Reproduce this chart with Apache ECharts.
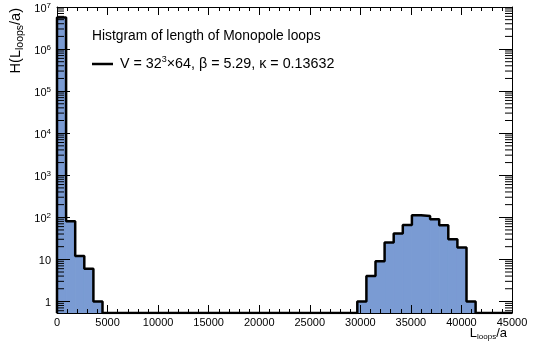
<!DOCTYPE html>
<html>
<head>
<meta charset="utf-8">
<script src="https://cdn.jsdelivr.net/npm/echarts@6/dist/echarts.min.js"></script>
<style>
  html, body { margin: 0; padding: 0; background: #fff; }
  #chart { width: 534px; height: 345px; }
</style>
</head>
<body>
<div id="chart"></div>
<script>
// Loop-length histogram: lower edge of each filled bin and its entry count
const binStarts = [0, 900, 1800, 2700, 3600,
  29700, 30600, 31500, 32400, 33300, 34200, 35100, 36000, 36900, 37800, 38700, 39600, 40500];
const binCounts = [5600000, 81, 12, 6, 1,
  1, 4, 9, 25, 41, 66, 112, 108, 90, 65, 30, 19, 1];
const BIN_WIDTH = 900;

const X_MIN = 0, X_MAX = 45000, X_STEP = 5000;
const Y_MIN = 0.53, Y_MAX = 1e7;

const titleText = 'Histgram of length of Monopole loops';
const seriesName = 'V = 32^3\u00d764, \u03b2 = 5.29, \u03ba = 0.13632';
const legendRich = '{t|V = 32}{s|3}{t|\u00d764, \u03b2 = 5.29, \u03ba = 0.13632}';
const xTitle = '{m|L}{s|loops}{m|/a}';
const yTitle = '{m|H(L}{s|loops}{m|/a)}';

const FONT = '"Liberation Sans", Arial, Helvetica, sans-serif';
const FILL = '#7a9bd3';

// filled bins
const barData = binStarts.map((s, i) => [s, s + BIN_WIDTH, binCounts[i]]);

// outer step contour across all bins (empty bins sit on the axis floor)
const countAt = {};
binStarts.forEach((s, i) => { countAt[s] = binCounts[i]; });
const outline = [[X_MIN, Y_MIN]];
for (let e = X_MIN; e < X_MAX; e += BIN_WIDTH) {
  outline.push([e, countAt[e] !== undefined ? countAt[e] : Y_MIN]);
}
outline.push([X_MAX, Y_MIN]);

// logarithmic minor ticks (2..9 x 10^n)
const minorTicks = [];
for (let d = -1; d < 7; d++) {
  for (let m = 2; m < 10; m++) {
    const v = m * Math.pow(10, d);
    if (v > Y_MIN && v < Y_MAX) minorTicks.push([X_MIN, v]);
  }
}

const chart = echarts.init(document.getElementById('chart'), null, { renderer: 'canvas' });

const axisLineStyle = { color: '#000', width: 1 };

function logLabel(v) {
  const e = Math.round(Math.log10(v));
  const p = Math.pow(10, e);
  if (Math.abs(v - p) > 1e-6 * p) return '';
  if (e === 0) return '1';
  if (e === 1) return '10';
  return '{b|10}{s|' + e + '}';
}

chart.setOption({
  animation: false,
  backgroundColor: '#fff',
  title: {
    text: titleText,
    left: 92, top: 29, padding: 0,
    textStyle: { fontSize: 13.8, fontWeight: 'normal', color: '#000', fontFamily: FONT }
  },
  legend: {
    left: 92, top: 55, padding: 0,
    itemWidth: 21, itemHeight: 2.5, itemGap: 0,
    data: [{ name: seriesName, icon: 'rect' }],
    itemStyle: { color: '#000', borderWidth: 0 },
    formatter: () => legendRich,
    textStyle: {
      color: '#000', fontFamily: FONT, fontSize: 14,
      padding: [0, 0, 0, 2],
      rich: {
        t: { fontSize: 14.3, color: '#000', fontFamily: FONT },
        s: { fontSize: 9, color: '#000', fontFamily: FONT, padding: [0, 0, 9, 0] }
      }
    }
  },
  grid: { left: 57, right: 22, top: 7, bottom: 32, containLabel: false },
  xAxis: [
    {
      type: 'value', min: X_MIN, max: X_MAX, interval: X_STEP, position: 'bottom', z: 10,
      axisLine: { show: true, onZero: false, lineStyle: axisLineStyle },
      axisTick: { show: true, inside: true, length: 8, lineStyle: axisLineStyle },
      minorTick: { show: true, splitNumber: 5, length: 4, lineStyle: axisLineStyle },
      splitLine: { show: false },
      axisLabel: { color: '#000', fontSize: 11, fontFamily: FONT, margin: 4, formatter: v => String(v) }
    },
    {
      type: 'value', min: X_MIN, max: X_MAX, interval: X_STEP, position: 'top', z: 10,
      axisLine: { show: true, onZero: false, lineStyle: axisLineStyle },
      axisTick: { show: true, inside: true, length: 8, lineStyle: axisLineStyle },
      minorTick: { show: true, splitNumber: 5, length: 4, lineStyle: axisLineStyle },
      splitLine: { show: false },
      axisLabel: { show: false }
    }
  ],
  yAxis: [
    {
      type: 'log', logBase: 10, min: Y_MIN, max: Y_MAX, position: 'left', z: 10,
      axisLine: { show: true, onZero: false, lineStyle: axisLineStyle },
      axisTick: { show: true, inside: true, length: 13, lineStyle: axisLineStyle },
      splitLine: { show: false },
      axisLabel: {
        color: '#000', fontSize: 11, fontFamily: FONT, margin: 6, padding: [4, 0, 0, 0],
        showMinLabel: true, showMaxLabel: true,
        formatter: logLabel,
        rich: {
          b: { fontSize: 11, color: '#000', fontFamily: FONT },
          s: { fontSize: 8, color: '#000', fontFamily: FONT, padding: [0, 0, 7, 0] }
        }
      }
    },
    {
      type: 'log', logBase: 10, min: Y_MIN, max: Y_MAX, position: 'right', z: 10,
      axisLine: { show: true, onZero: false, lineStyle: axisLineStyle },
      axisTick: { show: true, inside: true, length: 13, lineStyle: axisLineStyle },
      splitLine: { show: false },
      axisLabel: { show: false }
    }
  ],
  graphic: [
    {
      type: 'text', x: 507, y: 333, z: 20,
      style: {
        text: xTitle, align: 'right', verticalAlign: 'middle',
        rich: {
          m: { fontSize: 13, fill: '#000', fontFamily: FONT },
          s: { fontSize: 8, fill: '#000', fontFamily: FONT, padding: [7, 0, 0, 0] }
        }
      }
    },
    {
      type: 'text', x: 16, y: 8, rotation: Math.PI / 2, z: 20,
      style: {
        text: yTitle, align: 'right', verticalAlign: 'middle',
        rich: {
          m: { fontSize: 14.5, fill: '#000', fontFamily: FONT },
          s: { fontSize: 10.5, fill: '#000', fontFamily: FONT, padding: [8, 0, 0, 0] }
        }
      }
    }
  ],
  series: [
    {
      type: 'custom', name: 'bins', z: 2, silent: true,
      xAxisIndex: 0, yAxisIndex: 0,
      data: barData,
      encode: { x: [0, 1], y: 2 },
      renderItem: (params, api) => {
        const p0 = api.coord([api.value(0), api.value(2)]);
        const p1 = api.coord([api.value(1), Y_MIN]);
        return {
          type: 'rect',
          shape: { x: p0[0], y: p0[1], width: p1[0] - p0[0], height: p1[1] - p0[1] },
          style: { fill: FILL, stroke: FILL, lineWidth: 1 }
        };
      }
    },
    {
      type: 'line', name: seriesName, z: 3,
      xAxisIndex: 0, yAxisIndex: 0,
      data: outline, step: 'end', symbol: 'none', showSymbol: false,
      lineStyle: { color: '#000', width: 2.5 },
      itemStyle: { color: '#000' }
    },
    {
      type: 'custom', name: 'minorTicks', z: 12, silent: true, clip: false,
      xAxisIndex: 0, yAxisIndex: 0,
      data: minorTicks,
      renderItem: (params, api) => {
        const v = api.value(1);
        const l = api.coord([X_MIN, v]);
        const r = api.coord([X_MAX, v]);
        return {
          type: 'group',
          children: [
            { type: 'line', shape: { x1: l[0], y1: l[1], x2: l[0] + 7, y2: l[1] }, style: { stroke: '#000', lineWidth: 1 } },
            { type: 'line', shape: { x1: r[0] - 7, y1: r[1], x2: r[0], y2: r[1] }, style: { stroke: '#000', lineWidth: 1 } }
          ]
        };
      }
    }
  ]
});
</script>
</body>
</html>
